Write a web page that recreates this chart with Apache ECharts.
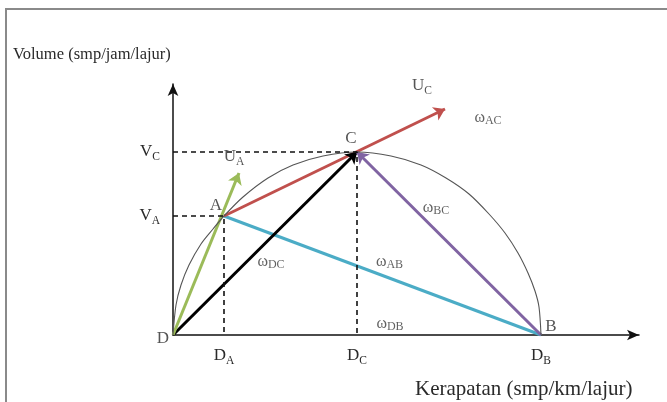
<!DOCTYPE html>
<html>
<head>
<meta charset="utf-8">
<script src="https://cdn.jsdelivr.net/npm/echarts@6/dist/echarts.min.js"></script>
<style>
  html, body { margin: 0; padding: 0; background: #fff; }
  #chart { width: 667px; height: 402px; }
</style>
</head>
<body>
<div id="chart"></div>
<script>
// Fundamental diagram: volume vs. density, with shock-wave vectors between states.
// Schematic units (no numeric scale on the axes).

// State points D, A, C, B
const pointNames = ['D', 'A', 'C', 'B'];
const pointK = [0, 51, 184, 368];     // density
const pointQ = [0, 119, 183, 0];      // volume

// Tick labels on the axes
const xTickValues = [51, 184, 368];
const xTickLabels = ['{m|D}{s|A}', '{m|D}{s|C}', '{m|D}{s|B}'];
const yTickValues = [119, 183];
const yTickLabels = ['{m|V}{s|A}', '{m|V}{s|C}'];

// Volume-density curve, sketched
const curveK = [0, 3, 8, 16, 28, 40, 51, 70, 95, 120, 150, 184, 218, 248, 273, 296, 316, 332, 345, 355, 362, 366, 368];
const curveQ = [0, 30, 50, 70, 91, 106, 119, 138, 157, 170, 179, 183, 179, 170, 157, 141, 121, 102, 82, 62, 44, 28, 0];

// Speed vector tips
const uATip = [66, 162];
const uCTip = [272, 226];

const FONT = '"Liberation Serif", "DejaVu Serif", serif';
const TXT = '#2a2a2a';

const P = {};
pointNames.forEach((n, i) => { P[n] = [pointK[i], pointQ[i]]; });
const mid = (a, b) => [(a[0] + b[0]) / 2, (a[1] + b[1]) / 2];

const richMain = {
  m: { fontFamily: FONT, fontSize: 17, color: TXT, lineHeight: 20, verticalAlign: 'middle' },
  s: { fontFamily: FONT, fontSize: 11.5, color: TXT, lineHeight: 14, verticalAlign: 'bottom', padding: [0, 0, -1, 0] }
};
const richOmega = {
  w: { fontFamily: FONT, fontSize: 16, color: '#3a3a3a', lineHeight: 18, verticalAlign: 'middle' },
  s: { fontFamily: FONT, fontSize: 12, color: '#3a3a3a', lineHeight: 14, verticalAlign: 'bottom', padding: [0, 0, 0, 0] }
};

function arrow(from, to, color) {
  return {
    type: 'lines', coordinateSystem: 'cartesian2d', silent: true,
    symbol: ['none', 'arrow'], symbolSize: 11,
    lineStyle: { color: color, width: 3, opacity: 1, curveness: 0 },
    data: [{ coords: [from, to] }]
  };
}
function guide(pts) {
  return {
    type: 'line', data: pts, symbol: 'none', silent: true,
    lineStyle: { color: '#111', width: 1.6, type: [5, 4] }
  };
}

// Labels of the points and vectors
const labelItems = [
  { value: P.D, text: '{m|D}', off: [-10, 4] },
  { value: P.A, text: '{m|A}', off: [-8, -10] },
  { value: P.C, text: '{m|C}', off: [-6, -13] },
  { value: P.B, text: '{m|B}', off: [10, -8] },
  { value: uATip, text: '{m|U}{s|A}', off: [-5, -16] },
  { value: uCTip, text: '{m|U}{s|C}', off: [-23, -23] }
];
const omegaItems = [
  { value: uCTip, text: '{w|ω}{s|AC}', off: [43, 9] },
  { value: mid(P.B, P.C), text: '{w|ω}{s|BC}', off: [-13, -36] },
  { value: mid(P.D, P.C), text: '{w|ω}{s|DC}', off: [6, 18] },
  { value: mid(P.A, P.B), text: '{w|ω}{s|AB}', off: [7, -14] },
  { value: mid(P.D, P.B), text: '{w|ω}{s|DB}', off: [33, -11] }
];

const chart = echarts.init(document.getElementById('chart'), null, { renderer: 'canvas' });

chart.setOption({
  animation: false,
  backgroundColor: '#fff',
  title: [
    { text: 'Volume (smp/jam/lajur)', left: 13, top: 46, padding: 0,
      textStyle: { fontFamily: FONT, fontSize: 16.5, fontWeight: 'normal', color: TXT } },
    { text: 'Kerapatan (smp/km/lajur)', left: 415, top: 379, padding: 0,
      textStyle: { fontFamily: FONT, fontSize: 21, fontWeight: 'normal', color: TXT } }
  ],
  grid: { left: 173, right: 28, top: 84, bottom: 67, containLabel: false },
  xAxis: {
    type: 'value', min: 0, max: 466,
    splitLine: { show: false }, axisTick: { show: false },
    axisLine: { show: true, symbol: ['none', 'arrow'], symbolSize: [8, 12],
      lineStyle: { color: '#111', width: 1.5 } },
    axisLabel: {
      show: true, customValues: xTickValues, margin: 11, color: TXT,
      formatter: v => xTickLabels[xTickValues.indexOf(v)] || '',
      rich: richMain
    }
  },
  yAxis: {
    type: 'value', min: 0, max: 251,
    splitLine: { show: false }, axisTick: { show: false },
    axisLine: { show: true, symbol: ['none', 'arrow'], symbolSize: [8, 12],
      lineStyle: { color: '#111', width: 1.5 } },
    axisLabel: {
      show: true, customValues: yTickValues, margin: 13, color: TXT,
      formatter: v => yTickLabels[yTickValues.indexOf(v)] || '',
      rich: richMain
    }
  },
  graphic: [
    { type: 'polyline', silent: true, shape: { points: [[6, 402], [6, 9], [667, 9]] },
      style: { stroke: '#8a8a8a', lineWidth: 2, fill: null } }
  ],
  series: [
    {
      type: 'line', silent: true, symbol: 'none', smooth: 0.3,
      data: curveK.map((k, i) => [k, curveQ[i]]),
      lineStyle: { color: '#555', width: 1.1 }
    },
    guide([[0, P.C[1]], P.C, [P.C[0], 0]]),
    guide([[0, P.A[1]], P.A, [P.A[0], 0]]),
    {
      type: 'lines', coordinateSystem: 'cartesian2d', silent: true, symbol: 'none',
      lineStyle: { color: '#4bacc6', width: 3, opacity: 1 },
      data: [{ coords: [P.A, P.B] }]
    },
    arrow(P.A, uCTip, '#c0504d'),
    arrow(P.D, P.C, '#000000'),
    arrow(P.B, P.C, '#8064a2'),
    arrow(P.D, uATip, '#9bbb59'),
    {
      type: 'scatter', silent: true, symbolSize: 0,
      data: labelItems.map(d => ({
        value: d.value,
        label: { show: true, position: 'inside', offset: d.off, formatter: d.text, rich: richMain }
      }))
    },
    {
      type: 'scatter', silent: true, symbolSize: 0,
      data: omegaItems.map(d => ({
        value: d.value,
        label: { show: true, position: 'inside', offset: d.off, formatter: d.text, rich: richOmega }
      }))
    }
  ]
});
</script>
</body>
</html>
